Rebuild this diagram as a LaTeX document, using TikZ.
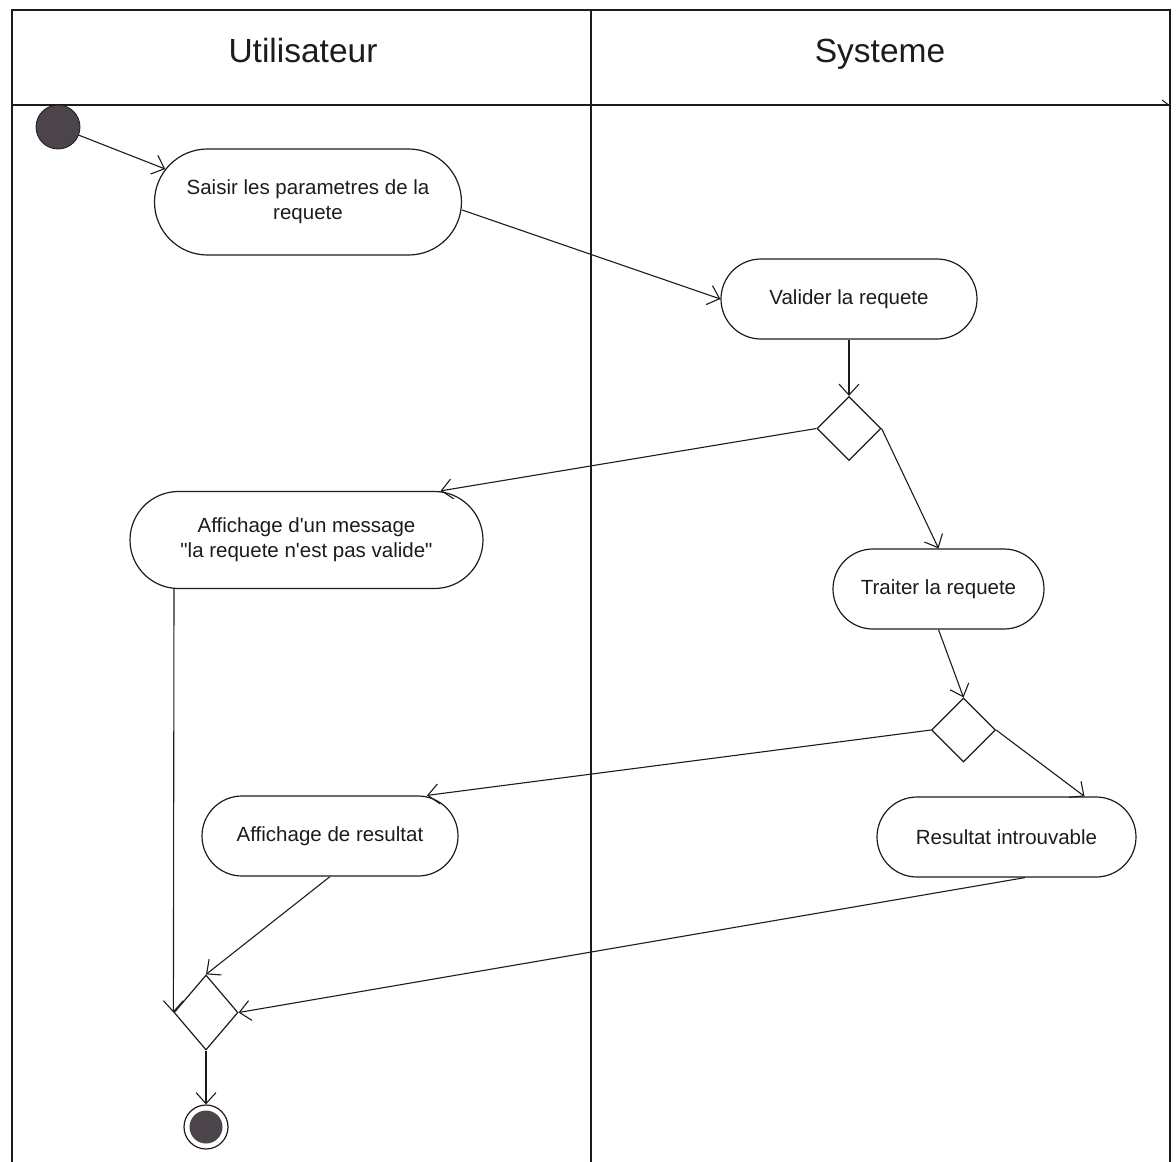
\documentclass[tikz,border=0pt]{standalone}
\usepackage{fontspec}
\setmainfont{Liberation Sans}
\usetikzlibrary{arrows.meta,shapes.geometric,shapes.misc}

\definecolor{inkdark}{RGB}{30,26,30}
\definecolor{nodefill}{RGB}{75,68,75}

\tikzset{
  lane/.style={line width=1.3pt, draw=inkdark},
  action/.style={rounded rectangle, draw=inkdark, line width=1.2pt,
    inner sep=0pt, align=center, text=inkdark,
    font=\fontsize{20.5}{25}\selectfont},
  choice/.style={diamond, draw=inkdark, line width=1.2pt, inner sep=0pt,
    minimum width=64pt, minimum height=64pt},
  flow/.style={draw=inkdark, line width=1.1pt,
    -{Straight Barb[length=11pt,width=20pt,line width=1.1pt]}},
  lanetitle/.style={text=inkdark, anchor=base, font=\fontsize{33.5}{40}\selectfont}
}

\begin{document}
\begin{tikzpicture}[x=1pt,y=-1pt]
\useasboundingbox (0,0) rectangle (1176,1162);

% swimlane frame
\draw[lane] (12,1162) -- (12,10) -- (1170,10) -- (1170,1162);
\draw[lane] (591,10) -- (591,1162);
\draw[lane] (12,105) -- (1170,105);
\draw[line width=1pt, draw=inkdark] (1162,100) -- (1170,106);

\node[lanetitle] (laneA) at (303,62) {Utilisateur};
\node[lanetitle] (laneB) at (880,62) {Systeme};

% initial and final states
\node[circle, fill=nodefill, draw=inkdark, line width=0.8pt,
      minimum size=44pt, inner sep=0pt] (start) at (58,127) {};
\node[circle, draw=inkdark, line width=1.2pt, minimum size=44pt, inner sep=0pt,
      path picture={\fill[nodefill] (path picture bounding box.center) circle (16.5pt);}]
      (stop) at (206,1127) {};

% actions
\node[action, minimum width=307pt, minimum height=106pt] (saisir) at (308,202)
  {Saisir les parametres de la\\requete};
\node[action, minimum width=256pt, minimum height=80pt] (valider) at (849,299)
  {Valider la requete};
\node[action, minimum width=353pt, minimum height=97pt] (msg) at (306.5,540)
  {Affichage d\textquotesingle un message\\\textquotedbl la requete n\textquotesingle est pas valide\textquotedbl};
\node[action, minimum width=211pt, minimum height=80pt] (traiter) at (938.5,589)
  {Traiter la requete};
\node[action, minimum width=256pt, minimum height=80pt] (res) at (330,836)
  {Affichage de resultat};
\node[action, minimum width=259pt, minimum height=80pt] (intr) at (1006.5,837)
  {Resultat introuvable};

% decisions and merge
\node[choice] (d1) at (849,428.5) {};
\node[choice] (d2) at (963.5,730) {};
\node[choice, minimum height=75pt] (merge) at (206,1012.5) {};

% control flow
\draw[flow] (start) -- (saisir.167);
\draw[flow] ([yshift=-8pt]saisir.east) -- (valider.west);
\draw[flow] (valider.south) -- (d1.north);
\draw[flow] (d1.west) -- ([xshift=134pt]msg.north);
\draw[flow] (d1.east) -- (traiter.north);
\draw[flow] (traiter.south) -- (d2.north);
\draw[flow] (d2.west) -- ([xshift=97pt]res.north);
\draw[flow] (d2.east) -- ([xshift=78pt]intr.north);
\draw[flow] ([xshift=-132.5pt]msg.south) -- (merge.west);
\draw[flow] (res.south) -- (merge.north);
\draw[flow] ([xshift=18.5pt]intr.south) -- (merge.east);
\draw[flow] (merge.south) -- (stop);
\end{tikzpicture}
\end{document}
